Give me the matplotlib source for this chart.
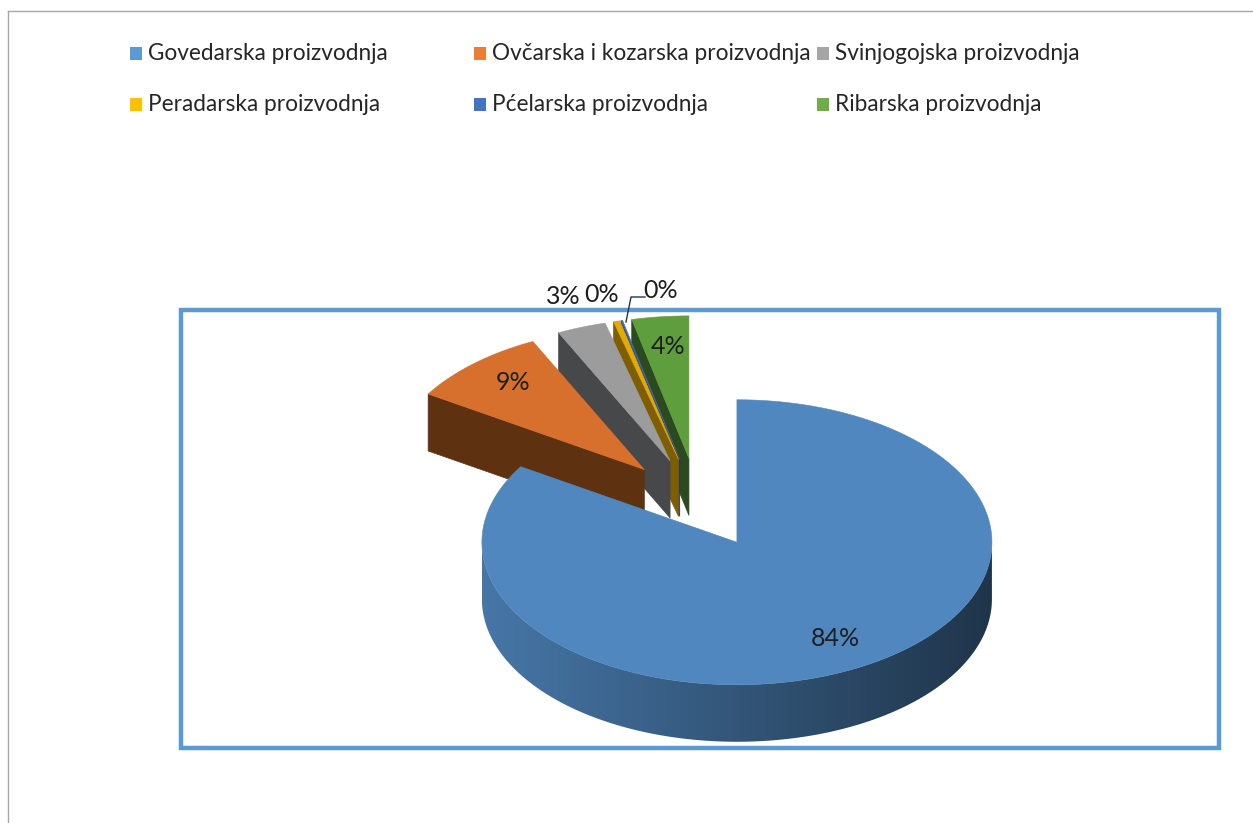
import numpy as np
import matplotlib
matplotlib.use("Agg")
import matplotlib.pyplot as plt
from matplotlib.colors import to_rgb
from matplotlib.patches import Polygon, Rectangle

plt.rcParams["font.family"] = ["Lato", "DejaVu Sans"]

# ---- data -------------------------------------------------------------
categories = [
    "Govedarska proizvodnja",
    "Ovčarska i kozarska proizvodnja",
    "Svinjogojska proizvodnja",
    "Peradarska proizvodnja",
    "Pćelarska proizvodnja",
    "Ribarska proizvodnja",
]
values = [83.9, 8.9, 3.1, 0.4, 0.1, 3.6]  # percent share

legend_colors = ["#5B9BD5", "#ED7D31", "#A5A5A5", "#FFC000", "#4472C4", "#70AD47"]
top_colors = ["#5087BE", "#D7702C", "#9C9C9C", "#E3AA05", "#3F68B0", "#5F9E3C"]
wall_colors = ["#2E4E72", "#5E3111", "#47484A", "#7E5E00", "#233A66", "#2B4A20"]

# label anchor points (pixels) for each slice's percentage
label_pos = [(835, 638), (513, 382), (563, 297), (602, 294), (661, 290), (668, 346)]

# ---- canvas -----------------------------------------------------------
W, H = 1253, 823
fig = plt.figure(figsize=(W / 100, H / 100), dpi=100)
ax = fig.add_axes([0, 0, 1, 1])
ax.set_xlim(0, W)
ax.set_ylim(H, 0)
ax.axis("off")

# outer chart frame (top and left edges)
ax.plot([8, W], [11, 11], color="#A6A6A6", lw=1.0, zorder=1)
ax.plot([8, 8], [11, H], color="#A6A6A6", lw=1.0, zorder=1)

# plot-area border
ax.add_patch(Rectangle((181, 310), 1038, 438, fill=False, ec="#5B9BD5", lw=3.2, zorder=1))

# ---- 3D exploded pie ----------------------------------------------------
cx, cy = 698, 503      # pie centre
rx, ry = 255, 142.5    # ellipse radii of the top face
depth = 57             # thickness
explode = 0.315        # radial offset of every slice (fraction of radius)


def rim(c, th):
    t = np.radians(th)
    return (c[0] + rx * np.sin(t), c[1] - ry * np.cos(t))


total = sum(values)
bounds = np.concatenate([[0.0], np.cumsum(values)]) / total * 360.0
slices = []
for i in range(len(values)):
    t1, t2 = bounds[i], bounds[i + 1]
    tm = np.radians((t1 + t2) / 2)
    c = (cx + explode * rx * np.sin(tm), cy - explode * ry * np.cos(tm))
    slices.append((i, t1, t2, c))

# farther slices first
z = 2
for i, t1, t2, c in sorted(slices, key=lambda s: s[3][1]):
    # radial walls facing the viewer
    for th, vis in ((t1, np.sin(np.radians(t1)) < -1e-9),
                    (t2, np.sin(np.radians(t2)) > 1e-9)):
        if vis:
            p = rim(c, th)
            poly = [c, p, (p[0], p[1] + depth), (c[0], c[1] + depth)]
            ax.add_patch(Polygon(poly, closed=True, fc=wall_colors[i],
                                 ec=wall_colors[i], lw=0.5, zorder=z))
    # curved outer wall, front half only, shaded left-to-right
    lo, hi = max(t1, 90.0), min(t2, 270.0)
    if hi > lo:
        ths = np.linspace(lo, hi, 300)
        upper = [rim(c, th) for th in ths]
        lower = [(x, y + depth) for x, y in upper[::-1]]
        wall = Polygon(upper + lower, closed=True, fc="none", ec="none", zorder=z)
        ax.add_patch(wall)
        xs = np.linspace(c[0] - rx, c[0] + rx, 512)
        shade = 0.635 - 0.245 * (xs - c[0]) / rx
        base = np.array(to_rgb(top_colors[i]))
        img = np.clip(shade[None, :, None] * base[None, None, :], 0, 1)
        ytop = c[1] - ry
        ybot = c[1] + ry + depth
        im = ax.imshow(img, extent=(c[0] - rx, c[0] + rx, ybot, ytop),
                       aspect="auto", interpolation="bilinear", zorder=z)
        im.set_clip_path(wall)
    # top face
    n = max(3, int((t2 - t1) * 2) + 2)
    poly = [c] + [rim(c, th) for th in np.linspace(t1, t2, n)]
    ax.add_patch(Polygon(poly, closed=True, fc=top_colors[i], ec=top_colors[i],
                         lw=0.4, zorder=z + 0.5))
    z += 1

ax.set_xlim(0, W)
ax.set_ylim(H, 0)

# ---- data labels --------------------------------------------------------
for v, (lx, ly) in zip(values, label_pos):
    ax.text(lx, ly, f"{round(v):.0f}%", ha="center", va="center",
            fontsize=18, color="#1E1E1E", zorder=20)

# leader line for the tiny slice
ax.plot([626, 631, 645], [322, 297, 297], color="#1F3550", lw=1.0, zorder=19)

# ---- legend -------------------------------------------------------------
for i, name in enumerate(categories):
    row, col = divmod(i, 3)
    x0 = 130 + col * 343.5
    y0 = 53 + row * 51
    ax.add_patch(Rectangle((x0, y0 - 6.5), 12, 13, fc=legend_colors[i], ec="none", zorder=5))
    ax.text(x0 + 18, y0, name, ha="left", va="center", fontsize=16.3,
            color="#262626", zorder=5)

fig.savefig("out.png", dpi=100)
